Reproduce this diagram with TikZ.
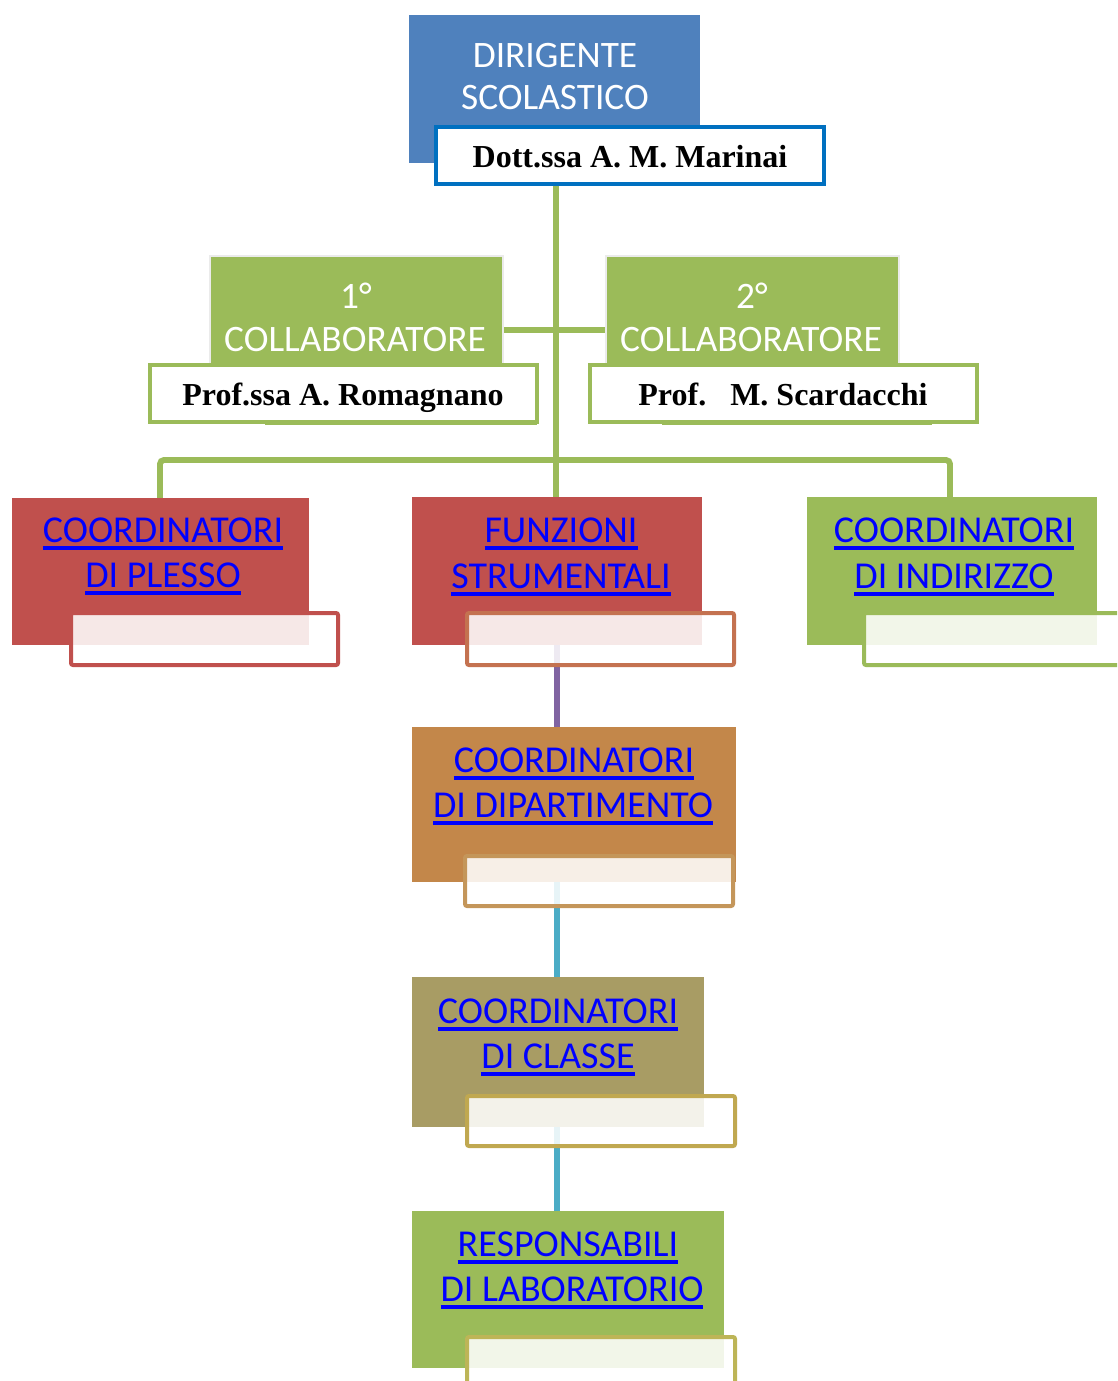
\documentclass[tikz,border=0pt]{standalone}
\usepackage{fontspec}
\setmainfont{Carlito}
\newfontfamily\tnr{Liberation Serif}
\usetikzlibrary{fit}
\pgfdeclarelayer{bg}
\pgfsetlayers{bg,main}
\definecolor{dsblue}{HTML}{4F81BD}
\definecolor{nameblue}{HTML}{0070C0}
\definecolor{ogreen}{HTML}{9BBB59}
\definecolor{ored}{HTML}{C0504D}
\definecolor{obrown}{HTML}{C47250}
\definecolor{oorange}{HTML}{C3874A}
\definecolor{otan}{HTML}{C4965A}
\definecolor{oolive}{HTML}{A89C64}
\definecolor{ogold}{HTML}{C0A850}
\definecolor{olgold}{HTML}{BDB557}
\definecolor{opurple}{HTML}{8064A2}
\definecolor{ocyan}{HTML}{4BACC6}
\definecolor{linkblue}{HTML}{0000FF}
\newcommand{\ulk}[1]{\setbox0=\hbox{#1}\rlap{\copy0}\raisebox{-5.8pt}{\rule{\wd0}{2.5pt}}}
\begin{document}
\begin{tikzpicture}[x=0.75pt,y=-0.75pt,
  rectbox/.style={inner sep=0pt, outer sep=0pt, draw=none},
  namebox/.style={inner sep=0pt, outer sep=0pt, fill=white, line width=2.4pt},
  lowbox/.style={inner sep=0pt, outer sep=0pt, fill=white, fill opacity=0.87, line width=3pt, rounded corners=1.5pt},
  wtext/.style={anchor=base, inner sep=0pt, text=white, font=\fontsize{28}{32}\selectfont},
  ltext/.style={anchor=base, inner sep=0pt, text=linkblue, font=\fontsize{28.5}{33}\selectfont},
  ntext/.style={anchor=base, inner sep=0pt, text=black, font=\tnr\bfseries\fontsize{24}{28}\selectfont},
  conn/.style={line width=4.4pt}]
\useasboundingbox (0,0) rectangle (1117,1381);
\clip (0,0) rectangle (1117,1381);
% Dirigente
\node[rectbox, fill=dsblue, fit={(409,15)(700,163)}] (ds) {};
\node[wtext] (ds1) at (555,67) {DIRIGENTE};
\node[wtext] (ds2) at (555,109) {SCOLASTICO};
\node[namebox, draw=nameblue, fit={(436,127)(824,184)}] (dsn) {};
\node[ntext] (dsnt) at (630,167) {Dott.ssa A. M. Marinai};
% Collaboratori
\node[rectbox, fill=ogreen, draw=black!8, line width=2pt, fit={(210,256)(503,366)}] (c1) {};
\node[wtext] (c1a) at (356,308) {1°};
\node[wtext] (c1b) at (355,351) {COLLABORATORE};
\draw[ogreen, line width=2pt] (265,424) -- (537,424);
\node[namebox, draw=ogreen, fit={(150,365)(537,422)}] (c1n) {};
\node[ntext] (c1nt) at (343,405) {Prof.ssa A. Romagnano};
\node[rectbox, fill=ogreen, draw=black!8, line width=2pt, fit={(606,256)(899,366)}] (c2) {};
\node[wtext] (c2a) at (752,308) {2°};
\node[wtext] (c2b) at (751,351) {COLLABORATORE};
\draw[ogreen, line width=2pt] (662,424) -- (932,424);
\node[namebox, draw=ogreen, fit={(590,365)(977,422)}] (c2n) {};
\node[ntext] (c2nt) at (783,405) {Prof.\ \ \ M. Scardacchi};
% Row 1
\node[rectbox, fill=ored, fit={(12,498)(309,645)}] (pl) {};
\node[ltext] (pl1) at (163,542) {\ulk{COORDINATORI}};
\node[ltext] (pl2) at (163,587) {\ulk{DI PLESSO}};
\node[lowbox, draw=ored, fit={(71,613)(338,665)}] (pll) {};
\node[rectbox, fill=ored, fit={(412,497)(702,645)}] (fs) {};
\node[ltext] (fs1) at (561,542) {\ulk{FUNZIONI}};
\node[ltext] (fs2) at (561,588) {\ulk{STRUMENTALI}};
\node[lowbox, draw=obrown, fit={(467,613)(734,665)}] (fsl) {};
\node[rectbox, fill=ogreen, fit={(807,497)(1097,645)}] (in) {};
\node[ltext] (in1) at (954,542) {\ulk{COORDINATORI}};
\node[ltext] (in2) at (954,588) {\ulk{DI INDIRIZZO}};
\node[lowbox, draw=ogreen, fit={(864,613)(1130,665)}] (inl) {};
% Dipartimento
\node[rectbox, fill=oorange, fit={(412,727)(736,882)}] (dp) {};
\node[ltext] (dp1) at (574,772) {\ulk{COORDINATORI}};
\node[ltext] (dp2) at (573,817) {\ulk{DI DIPARTIMENTO}};
\node[lowbox, draw=otan, fit={(465,856)(733,906)}] (dpl) {};
% Classe
\node[rectbox, fill=oolive, fit={(412,977)(704,1127)}] (cl) {};
\node[ltext] (cl1) at (558,1023) {\ulk{COORDINATORI}};
\node[ltext] (cl2) at (558,1068) {\ulk{DI CLASSE}};
\node[lowbox, draw=ogold, fit={(467,1096)(735,1146)}] (cll) {};
% Laboratorio
\node[rectbox, fill=ogreen, fit={(412,1211)(724,1368)}] (lb) {};
\node[ltext] (lb1) at (568,1256) {\ulk{RESPONSABILI}};
\node[ltext] (lb2) at (572,1301) {\ulk{DI LABORATORIO}};
\node[lowbox, draw=olgold, fit={(467,1337)(735,1400)}] (lbl) {};
% connectors
\coordinate (bus) at (556,460);
\coordinate (bl) at (160,460);
\coordinate (br) at (950,460);
\coordinate (cy) at (556,330);
\coordinate (vx) at (557,0);
\begin{pgfonlayer}{bg}
\draw[conn, ogreen] (dsn.south -| bus) -- (bus) -- (fs.north -| bus);
\draw[conn, ogreen] (c1.east |- cy) -- (c2.west |- cy);
\draw[conn, ogreen, rounded corners=3pt] (pl.north -| bl) -- (bl) -- (br) -- (in.north -| br);
\draw[conn, opurple] (fs.south -| vx) -- (dp.north -| vx);
\draw[conn, ocyan] (dp.south -| vx) -- (cl.north -| vx);
\draw[conn, ocyan] (cl.south -| vx) -- (lb.north -| vx);
\end{pgfonlayer}
\end{tikzpicture}
\end{document}
